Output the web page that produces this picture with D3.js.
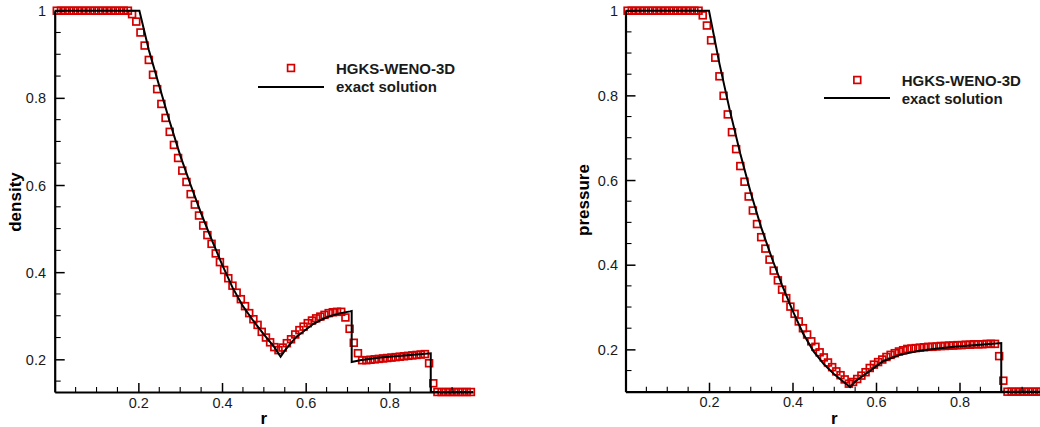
<!DOCTYPE html>
<html>
<head>
<meta charset="utf-8">
<script src="https://cdn.jsdelivr.net/npm/d3@7"></script>
<style>
  html, body { margin: 0; padding: 0; background: #fff; overflow: hidden; }
  svg { display: block; font-family: "Liberation Sans", Arial, sans-serif; }
</style>
</head>
<body>
<svg id="chart" width="1040" height="427"></svg>
<script>
// ---------------- DATA ----------------
const rCells = [
  0.005,0.015,0.025,0.035,0.045,0.055,0.065,0.075,0.085,0.095,
  0.105,0.115,0.125,0.135,0.145,0.155,0.165,0.175,0.185,0.195,
  0.205,0.215,0.225,0.235,0.245,0.255,0.265,0.275,0.285,0.295,
  0.305,0.315,0.325,0.335,0.345,0.355,0.365,0.375,0.385,0.395,
  0.405,0.415,0.425,0.435,0.445,0.455,0.465,0.475,0.485,0.495,
  0.505,0.515,0.525,0.535,0.545,0.555,0.565,0.575,0.585,0.595,
  0.605,0.615,0.625,0.635,0.645,0.655,0.665,0.675,0.685,0.695,
  0.705,0.715,0.725,0.735,0.745,0.755,0.765,0.775,0.785,0.795,
  0.805,0.815,0.825,0.835,0.845,0.855,0.865,0.875,0.885,0.895,
  0.905,0.915,0.925,0.935,0.945,0.955,0.965,0.975,0.985,0.995
];

const densityHGKS = [
  1,1,1,1,1,1,1,1,1,1,
  1,1,1,1,1,1,1,1,0.992,0.975,
  0.950,0.920,0.887,0.853,0.820,0.786,0.754,0.722,0.692,0.662,
  0.633,0.607,0.579,0.555,0.530,0.507,0.485,0.465,0.443,0.423,
  0.405,0.386,0.369,0.353,0.338,0.322,0.306,0.292,0.279,0.263,
  0.250,0.239,0.228,0.221,0.227,0.237,0.246,0.257,0.267,0.275,
  0.283,0.289,0.294,0.298,0.302,0.306,0.308,0.309,0.309,0.296,
  0.270,0.238,0.214,0.198,0.198,0.199,0.200,0.201,0.202,0.203,
  0.204,0.205,0.206,0.207,0.208,0.209,0.210,0.211,0.212,0.191,
  0.145,0.125,0.125,0.125,0.125,0.125,0.125,0.125,0.125,0.125
];

const pressureHGKS = [
  1,1,1,1,1,1,1,1,1,1,
  1,1,1,1,1,1,1,1,0.989,0.965,
  0.930,0.889,0.845,0.799,0.755,0.713,0.673,0.633,0.596,0.561,
  0.528,0.496,0.465,0.438,0.412,0.386,0.363,0.341,0.321,0.301,
  0.284,0.266,0.250,0.235,0.219,0.206,0.193,0.181,0.169,0.158,
  0.148,0.139,0.129,0.119,0.123,0.130,0.138,0.146,0.156,0.164,
  0.170,0.176,0.182,0.187,0.191,0.195,0.198,0.201,0.202,0.203,
  0.204,0.205,0.206,0.206,0.207,0.208,0.208,0.209,0.209,0.210,
  0.210,0.211,0.211,0.212,0.212,0.212,0.213,0.213,0.213,0.184,
  0.126,0.100,0.100,0.100,0.100,0.100,0.100,0.100,0.100,0.100
];

const densityExactR = [0,0.2025,0.225,0.25,0.275,0.30,0.325,0.35,0.375,0.40,0.425,0.45,0.475,0.50,0.525,0.540,
  0.55,0.56,0.578,0.60,0.618,0.64,0.658,0.68,0.706,0.710,0.710,0.73,0.778,0.85,0.899,0.899,1.0];
const densityExact = [1,1,0.91,0.827,0.745,0.668,0.600,0.535,0.475,0.418,0.365,0.322,0.288,0.257,0.228,0.206,
  0.220,0.232,0.252,0.268,0.281,0.292,0.299,0.305,0.310,0.311,0.194,0.198,0.204,0.210,0.214,0.125,0.125];

const pressureExactR = [0,0.2,0.225,0.25,0.275,0.30,0.325,0.35,0.375,0.40,0.425,0.45,0.475,0.50,0.525,0.538,
  0.55,0.578,0.617,0.657,0.70,0.737,0.793,0.85,0.9,0.9,1.0];
const pressureExact = [1,1,0.875,0.764,0.662,0.570,0.488,0.417,0.352,0.292,0.238,0.196,0.165,0.141,0.121,0.111,
  0.124,0.144,0.172,0.187,0.196,0.201,0.207,0.211,0.215,0.100,0.100];

const xTickValues = [0.2, 0.4, 0.6, 0.8];
const xTickLabels = ["0.2", "0.4", "0.6", "0.8"];
const yTickValues = [0.2, 0.4, 0.6, 0.8, 1];
const yTickLabels = ["0.2", "0.4", "0.6", "0.8", "1"];
const legendLabels = ["HGKS-WENO-3D", "exact solution"];
const xTitle = "r";
const yTitles = ["density", "pressure"];

// ---------------- LAYOUT ----------------
const RED = "#d40000";
const svg = d3.select("#chart");

const panels = [
  { yTitle: yTitles[0], vals: densityHGKS, exR: densityExactR, ex: densityExact,
    xr: [54.7, 473], yr: [392, 10.7], ydom: [0.125, 1],
    ylabX: 46, ytitleX: 21, ytitleY: 202,
    leg: { mx: 291, my: 68, lx0: 258, lx1: 324, ly: 87, tx: 336, t1: 73.5, t2: 91.5 } },
  { yTitle: yTitles[1], vals: pressureHGKS, exR: pressureExactR, ex: pressureExact,
    xr: [625.5, 1043], yr: [391.7, 10.7], ydom: [0.1, 1],
    ylabX: 618, ytitleX: 589, ytitleY: 200,
    leg: { mx: 857.3, my: 80, lx0: 824, lx1: 890, ly: 98, tx: 901.7, t1: 85.5, t2: 103.5 } }
];

panels.forEach(p => {
  const x = d3.scaleLinear().domain([0, 1]).range(p.xr);
  const y = d3.scaleLinear().domain(p.ydom).range(p.yr);
  const g = svg.append("g");

  // markers
  const ms = 6.8;
  g.append("g").selectAll("rect").data(rCells).join("rect")
    .attr("x", (d) => x(d) - ms / 2)
    .attr("y", (d, i) => y(p.vals[i]) - ms / 2)
    .attr("width", ms).attr("height", ms)
    .attr("fill", "none").attr("stroke", RED).attr("stroke-width", 1.7);

  // exact line
  const line = d3.line().x((d) => x(d[0])).y((d) => y(d[1]));
  g.append("path")
    .datum(p.exR.map((r, i) => [r, p.ex[i]]))
    .attr("d", line)
    .attr("fill", "none").attr("stroke", "#000").attr("stroke-width", 2)
    .attr("stroke-linejoin", "miter");

  // x axis
  const xAxis = d3.axisBottom(x).tickValues(xTickValues).tickSize(-9).tickSizeOuter(0)
    .tickFormat((d, i) => xTickLabels[i]);
  const gx = g.append("g").attr("transform", `translate(0,${p.yr[0]})`).call(xAxis);
  gx.select(".domain").attr("stroke-width", 2.2);
  gx.selectAll(".tick line").attr("stroke-width", 1.5);
  gx.selectAll(".tick text").attr("y", 15.5).attr("dy", 0)
    .attr("font-size", 14.5).attr("fill", "#1a1a1a").attr("font-family", "Liberation Sans, Arial");
  const xMinor = d3.range(0.05, 1.0, 0.05).filter(v => !xTickValues.some(t => Math.abs(t - v) < 1e-6));
  g.append("g").selectAll("line").data(xMinor).join("line")
    .attr("x1", d => x(d)).attr("x2", d => x(d))
    .attr("y1", p.yr[0]).attr("y2", p.yr[0] - 5)
    .attr("stroke", "#000").attr("stroke-width", 1.1);

  // y axis
  const yAxis = d3.axisLeft(y).tickValues(yTickValues).tickSize(-10).tickSizeOuter(0)
    .tickFormat((d, i) => yTickLabels[i]);
  const gy = g.append("g").attr("transform", `translate(${p.xr[0]},0)`).call(yAxis);
  gy.select(".domain").attr("stroke-width", 2.2);
  gy.selectAll(".tick line").attr("stroke-width", 1.5);
  gy.selectAll(".tick text").attr("x", p.ylabX - p.xr[0]).attr("dy", "0.35em")
    .attr("font-size", 14.5).attr("fill", "#1a1a1a").attr("font-family", "Liberation Sans, Arial");
  const yMinor = d3.range(0.15, 1.0, 0.05).filter(v => v >= p.ydom[0] - 1e-9 && !yTickValues.some(t => Math.abs(t - v) < 1e-6));
  g.append("g").selectAll("line").data(yMinor).join("line")
    .attr("x1", p.xr[0]).attr("x2", p.xr[0] + 6)
    .attr("y1", d => y(d)).attr("y2", d => y(d))
    .attr("stroke", "#000").attr("stroke-width", 1.1);

  // axis titles
  g.append("text").attr("x", (p.xr[0] + Math.min(p.xr[1], 1040)) / 2 + (p.xr[1] > 1040 ? 1 : 0))
    .attr("x", x(0.5)).attr("y", 424)
    .attr("text-anchor", "middle").attr("font-weight", "bold").attr("font-size", 17).text(xTitle);
  g.append("text").attr("transform", `translate(${p.ytitleX},${p.ytitleY}) rotate(-90)`)
    .attr("text-anchor", "middle").attr("font-weight", "bold").attr("font-size", 17).text(p.yTitle);

  // legend
  const L = p.leg;
  g.append("rect").attr("x", L.mx - ms / 2).attr("y", L.my - ms / 2).attr("width", ms).attr("height", ms)
    .attr("fill", "none").attr("stroke", RED).attr("stroke-width", 1.7);
  g.append("line").attr("x1", L.lx0).attr("x2", L.lx1).attr("y1", L.ly).attr("y2", L.ly)
    .attr("stroke", "#000").attr("stroke-width", 2);
  g.append("text").attr("x", L.tx).attr("y", L.t1).attr("font-weight", "bold").attr("font-size", 15)
    .attr("fill", "#1a1a1a").text(legendLabels[0]);
  g.append("text").attr("x", L.tx).attr("y", L.t2).attr("font-weight", "bold").attr("font-size", 15)
    .attr("fill", "#1a1a1a").text(legendLabels[1]);
});
</script>
</body>
</html>
